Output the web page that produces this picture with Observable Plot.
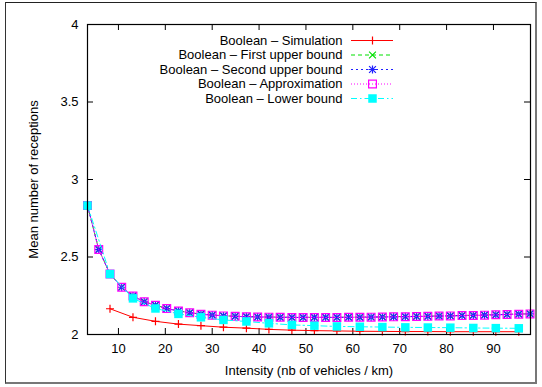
<!DOCTYPE html>
<html><head><meta charset="utf-8">
<script src="https://cdn.jsdelivr.net/npm/d3@7"></script>
<script src="https://cdn.jsdelivr.net/npm/@observablehq/plot@0.6"></script>
<style>
body{margin:0;background:#fff;}
#wrap{position:relative;width:542px;height:387px;overflow:hidden;background:#fff;}
#wrap svg{position:absolute;left:0;top:0;}
#border{position:absolute;left:5px;top:2px;width:532px;height:382px;border-top:1px solid #222;border-left:1px solid #333;border-right:2px solid #777;border-bottom:2px solid #777;box-sizing:border-box;}
</style></head>
<body>
<div id="wrap"><div id="border"></div></div>
<script>
// ---- data ----
const xs = [3.4, 5.8, 8.2, 10.7, 13.1, 15.5, 17.9, 20.3, 22.8, 25.2, 27.6, 30.0, 32.4, 34.9, 37.3, 39.7, 42.1, 44.5, 47.0, 49.4,
            51.8, 54.2, 56.6, 59.1, 61.5, 63.9, 66.3, 68.7, 71.2, 73.6, 76.0, 78.4, 80.8, 83.3, 85.7, 88.1, 90.5, 92.9, 95.4, 97.8];
const xTicks = [10, 20, 30, 40, 50, 60, 70, 80, 90];
const yTicks = [2, 2.5, 3, 3.5, 4];
const xLabel = "Intensity (nb of vehicles / km)";
const yLabel = "Mean number of receptions";
const seriesNames = ["Boolean – Simulation", "Boolean – First upper bound", "Boolean – Second upper bound", "Boolean – Approximation", "Boolean – Lower bound"];

const approximation = [2.832, 2.548, 2.390, 2.305, 2.248, 2.211, 2.188, 2.167, 2.152, 2.140, 2.131, 2.125, 2.120, 2.117, 2.115, 2.113, 2.112, 2.111, 2.110, 2.110,
                       2.110, 2.110, 2.110, 2.111, 2.111, 2.112, 2.113, 2.114, 2.115, 2.116, 2.117, 2.119, 2.120, 2.122, 2.123, 2.125, 2.127, 2.129, 2.131, 2.133];
const firstUpper = [2.832, 2.549, 2.391, 2.306, 2.249, 2.212, 2.189, 2.168, 2.153, 2.141, 2.132, 2.126, 2.121, 2.118, 2.116, 2.114, 2.113, 2.112, 2.111, 2.111,
                    2.111, 2.111, 2.111, 2.112, 2.112, 2.113, 2.114, 2.115, 2.116, 2.117, 2.118, 2.120, 2.121, 2.123, 2.124, 2.126, 2.128, 2.130, 2.132, 2.134];
const secondUpper = [2.832, 2.548, 2.390, 2.305, 2.248, 2.211, 2.188, 2.167, 2.152, 2.140, 2.131, 2.125, 2.120, 2.117, 2.115, 2.113, 2.112, 2.111, 2.110, 2.110,
                     2.110, 2.110, 2.110, 2.111, 2.111, 2.112, 2.113, 2.114, 2.115, 2.116, 2.117, 2.119, 2.120, 2.122, 2.123, 2.125, 2.127, 2.129, 2.131, 2.133];
// lower bound and simulation are sampled at every other intensity
const lowerBound = [2.832, 2.390, 2.233, 2.168, 2.133, 2.111, 2.094, 2.084, 2.072, 2.062, 2.057, 2.052, 2.050, 2.048, 2.046, 2.045, 2.044, 2.042, 2.041, 2.040];
const simulation = [2.166, 2.111, 2.085, 2.067, 2.057, 2.047, 2.041, 2.033, 2.028, 2.025, 2.023, 2.021, 2.020, 2.019, 2.019, 2.018, 2.018, 2.018, 2.018];

// ---- build tables ----
const xsEven = xs.filter((d, i) => i % 2 === 0);
const xsSim = xsEven.slice(1);
const rows = (xArr, yArr) => xArr.map((x, i) => ({x, y: yArr[i]}));
const series = [
  {name: seriesNames[0], data: rows(xsSim, simulation), stroke: "#ff0000", dash: null, symbols: [{symbol: "plus", r: 2.7}], fill: "none"},
  {name: seriesNames[1], data: rows(xs, firstUpper), stroke: "#00e000", dash: "4,3", symbols: [{symbol: "times", r: 3.2}], fill: "none"},
  {name: seriesNames[2], data: rows(xs, secondUpper), stroke: "#2020ff", dash: "2,3", symbols: [{symbol: "plus", r: 2.7}, {symbol: "times", r: 3.2}], fill: "none"},
  {name: seriesNames[3], data: rows(xs, approximation), stroke: "#ff00ff", dash: "1,2", symbols: [{symbol: "square", r: 4.4}], fill: "none"},
  {name: seriesNames[4], data: rows(xsEven, lowerBound), stroke: "#00ffff", dash: "6,3,1.5,3", symbols: [{symbol: "square", r: 4.8}], fill: "#00ffff"}
];

const W = 542, H = 387, mL = 87, mR = 12, mT = 24, mB = 53;
const fw = W - mL - mR, fh = H - mT - mB;
const font = "'Liberation Sans', Arial, Helvetica, sans-serif";

const marks = [
  Plot.ruleX(xTicks, {x: d => d, insetTop: fh - 6, stroke: "#000"}),
  Plot.ruleX(xTicks, {x: d => d, insetBottom: fh - 6, stroke: "#000"}),
  Plot.ruleY(yTicks, {y: d => d, insetRight: fw - 6, stroke: "#000"}),
  Plot.ruleY(yTicks, {y: d => d, insetLeft: fw - 6, stroke: "#000"}),
  Plot.axisX({ticks: xTicks, tickSize: 0, tickPadding: 9, fill: "#000", label: null}),
  Plot.axisY({ticks: yTicks, tickSize: 0, tickPadding: 9, fill: "#000", tickFormat: d => String(d), label: null}),
  Plot.text([xLabel], {text: d => d, frameAnchor: "bottom", dy: 36, textAnchor: "middle", lineAnchor: "middle", fill: "#000"}),
  Plot.text([yLabel], {text: d => d, frameAnchor: "left", dx: -54, rotate: -90, textAnchor: "middle", lineAnchor: "middle", fill: "#000"})
];
for (const s of series) {
  marks.push(Plot.line(s.data, {x: "x", y: "y", stroke: s.stroke, strokeWidth: 1, strokeDasharray: s.dash}));
  for (const sym of s.symbols) {
    marks.push(Plot.dot(s.data, {x: "x", y: "y", symbol: sym.symbol, r: sym.r, stroke: s.stroke, fill: s.fill, strokeWidth: s.fill === "none" ? 1.2 : 0}));
  }
}
marks.push(Plot.frame({stroke: "#000", strokeWidth: 1.2}));

const chart = Plot.plot({
  width: W, height: H, marginLeft: mL, marginRight: mR, marginTop: mT, marginBottom: mB,
  style: {fontFamily: font, fontSize: "13px", background: "transparent", color: "#000"},
  x: {domain: [3.4, 97.9]},
  y: {domain: [2, 4]},
  marks
});

// ---- legend (overlay with identity scales) ----
const legendRows = [40, 54.5, 69, 83.5, 98];
const legendMarks = [];
series.forEach((s, i) => {
  const y = legendRows[i];
  legendMarks.push(Plot.text([s.name], {x: 342, y, text: d => d, textAnchor: "end", lineAnchor: "middle", fill: "#000"}));
  legendMarks.push(Plot.ruleY([y], {y: d => d, x1: 351, x2: 393, stroke: s.stroke, strokeWidth: 1, strokeDasharray: s.dash}));
  for (const sym of s.symbols) {
    legendMarks.push(Plot.dot([y], {x: 372, y: d => d, symbol: sym.symbol, r: sym.r, stroke: s.stroke, fill: s.fill, strokeWidth: s.fill === "none" ? 1.2 : 0}));
  }
});
const legend = Plot.plot({
  width: W, height: H, margin: 0,
  style: {fontFamily: font, fontSize: "13px", background: "transparent"},
  x: {type: "identity", axis: null}, y: {type: "identity", axis: null},
  marks: legendMarks
});

const wrap = document.getElementById("wrap");
wrap.appendChild(chart);
wrap.appendChild(legend);
</script>
</body></html>
